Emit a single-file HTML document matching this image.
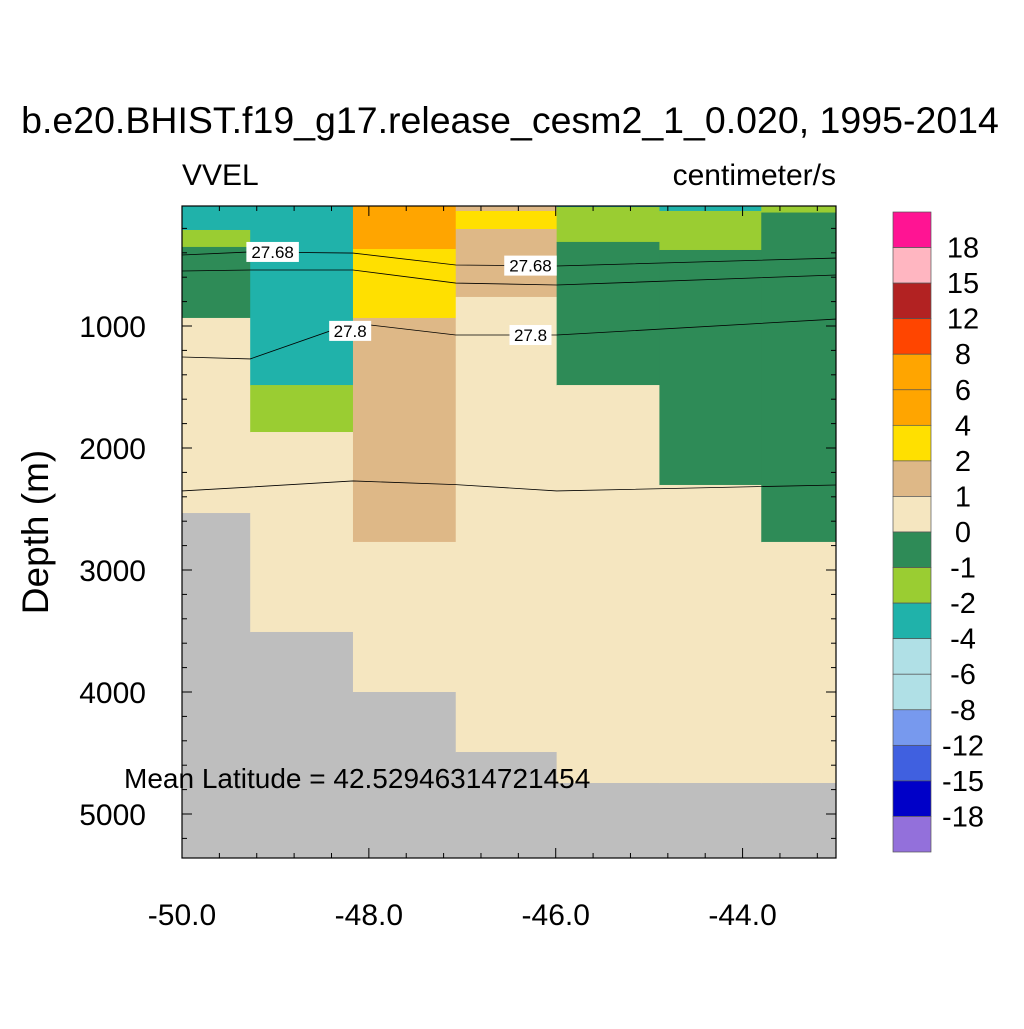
<!DOCTYPE html>
<html><head><meta charset="utf-8"><style>
body{margin:0;background:#fff}
svg text{font-family:"Liberation Sans",sans-serif}
</style></head><body>
<svg id="c" width="1024" height="1024" xmlns="http://www.w3.org/2000/svg">
<rect width="1024" height="1024" fill="#fff"/>
<text x="510" y="133" font-size="37.5" text-anchor="middle">b.e20.BHIST.f19_g17.release_cesm2_1_0.020, 1995-2014</text>
<text x="182" y="185" font-size="30">VVEL</text>
<text x="836" y="185" font-size="30" text-anchor="end">centimeter/s</text>
<text transform="translate(48,532) rotate(-90)" font-size="37" text-anchor="middle">Depth (m)</text>
<g id="cells"></g><g id="lines"></g><g id="axes"></g><g id="cbar"></g>
<text x="124" y="788" font-size="28">Mean Latitude = 42.52946314721454</text>
</svg>
<script>
const levels=["18","15","12","8","6","4","2","1","0","-1","-2","-4","-6","-8","-12","-15","-18"];
const colors=["#ff1493","#ffb6c1","#b22222","#ff4500","#ffa500","#ffa500","#ffe000","#deb887","#f5e6c0","#2e8b57","#9acd32","#20b2aa","#b0e0e6","#b0e0e6","#7799ee","#4060e0","#0000c8","#9370db"];
const colEdges=[-50,-49.27,-48.17,-47.07,-45.99,-44.89,-43.8,-43];
// per column: [topDepth,bottomDepth,colorIndex]; gray = land
const columns=[
 [[0,213,11],[213,352,10],[352,934,9],[934,2533,8],[2533,5400,-1]],
 [[0,1484,11],[1484,1869,10],[1869,3508,8],[3508,5400,-1]],
 [[0,369,5],[369,934,6],[934,2770,7],[2770,4000,8],[4000,5400,-1]],
 [[0,57,7],[57,205,6],[205,762,7],[762,4492,8],[4492,5400,-1]],
 [[0,25,11],[25,311,10],[311,1484,9],[1484,4746,8],[4746,5400,-1]],
 [[0,57,11],[57,377,10],[377,2303,9],[2303,4746,8],[4746,5400,-1]],
 [[0,70,10],[70,2770,9],[2770,4746,8],[4746,5400,-1]]
];
const contourLon=[-50,-49.27,-48.17,-47.07,-45.99,-43];
const contour1=[418,393,402,500,508,443];
const contour2=[549,541,541,648,664,582];
const contour3=[1254,1270,975,1074,1074,943];
const contour4=[2352,2320,2270,2300,2352,2303];
const xTicks=[-50,-48,-46,-44];
const yTicks=[1000,2000,3000,4000,5000];
const NS="http://www.w3.org/2000/svg";
const X0=182,X1=836,Y0=206,Y1=858;
const xs=v=>X0+(v+50)*(X1-X0)/7;
const ys=d=>204+d*0.122;
function mk(t,a,p){const e=document.createElementNS(NS,t);for(const k in a)e.setAttribute(k,a[k]);p.appendChild(e);return e;}
const cells=document.getElementById('cells');
columns.forEach((col,i)=>{col.forEach(c=>{
 const y0=Math.max(Y0,ys(c[0])),y1=Math.min(Y1,ys(c[1]));
 const r=mk('rect',{x:xs(colEdges[i]),y:y0,width:xs(colEdges[i+1])-xs(colEdges[i])+0.5,height:y1-y0+0.5,fill:c[2]<0?'#bebebe':colors[c[2]]},cells);
 
 
});});
const lines=document.getElementById('lines');
[contour1,contour2,contour3,contour4].forEach((arr,k)=>{
 const p=mk('polyline',{points:arr.map((d,i)=>xs(contourLon[i])+','+ys(d)).join(' '),fill:'none',stroke:'#000','stroke-width':0.8},lines);
 
 
});
const labs=[["27.68",-49.03,393],["27.68",-46.27,505],["27.8",-48.2,1040],["27.8",-46.27,1074]];
labs.forEach(l=>{
 const x=xs(l[1]),y=ys(l[2]);const w=l[0].length*10.5;
 const r=mk('rect',{x:x-w/2,y:y-10,width:w,height:20,fill:'#fff'},lines);
 
 
 const t=mk('text',{x:x,y:y+6,'font-size':17,'text-anchor':'middle'},lines);t.textContent=l[0];
 
 
});
const ax=document.getElementById('axes');
const fr=mk('rect',{x:X0,y:Y0,width:X1-X0,height:Y1-Y0,fill:'none',stroke:'#000','stroke-width':1.2},ax);


for(let v=-50;v<=-43.01;v+=0.4){const x=xs(v);const m=(v+50)%2;const maj=Math.abs(m)<0.01||Math.abs(m-2)<0.01;const L=maj?10:5;
 mk('line',{x1:x,y1:Y1,x2:x,y2:Y1-L,stroke:'#000'},ax);mk('line',{x1:x,y1:Y0,x2:x,y2:Y0+L,stroke:'#000'},ax);}
for(let d=200;d<=5400;d+=200){const y=ys(d);if(y>Y1)break;const L=d%1000==0?10:5;
 mk('line',{x1:X0,y1:y,x2:X0+L,y2:y,stroke:'#000'},ax);mk('line',{x1:X1,y1:y,x2:X1-L,y2:y,stroke:'#000'},ax);}
xTicks.forEach(v=>{const t=mk('text',{x:xs(v),y:Y1+67,'font-size':30,'text-anchor':'middle'},ax);t.textContent=v.toFixed(1);
 
 });
yTicks.forEach(d=>{const t=mk('text',{x:X0-36,y:ys(d)+11,'font-size':30,'text-anchor':'end'},ax);t.textContent=d;
 
 });
const cb=document.getElementById('cbar');const bh=(852-212)/colors.length;
colors.forEach((c,i)=>{const r=mk('rect',{x:893,y:212+i*bh,width:38,height:bh,fill:c,stroke:'#555','stroke-width':0.7},cb);
 
 });
levels.forEach((l,i)=>{const t=mk('text',{x:963,y:212+(i+1)*bh+10,'font-size':29,'text-anchor':'middle'},cb);t.textContent=l;
 
 });
</script>
</body></html>
